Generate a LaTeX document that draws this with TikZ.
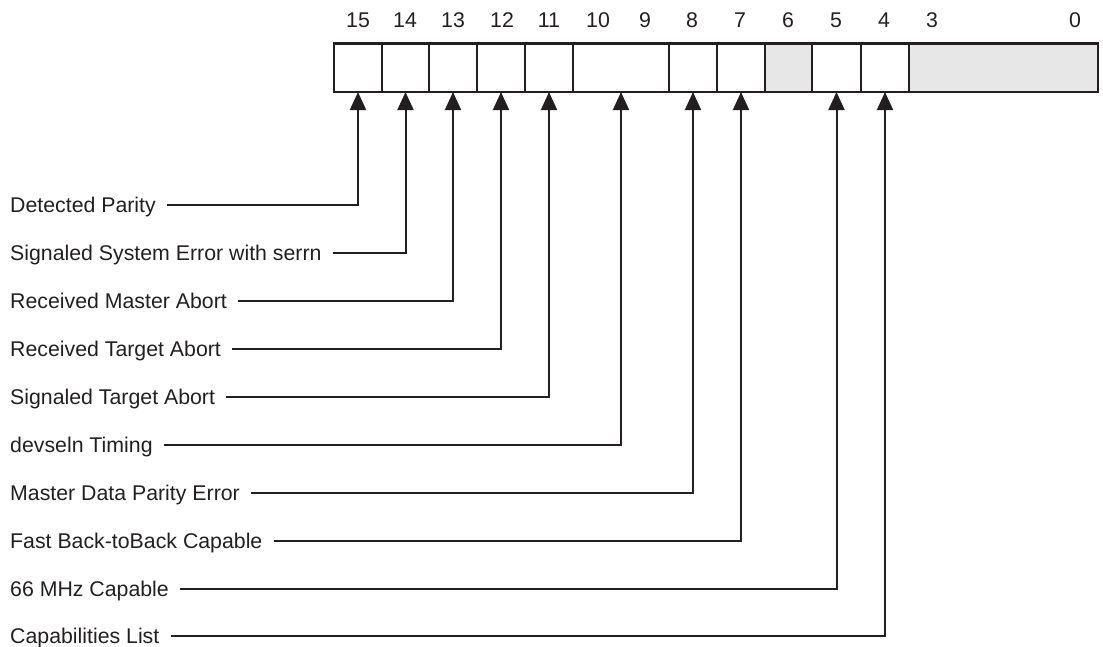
\documentclass[tikz,border=0pt]{standalone}
\usepackage{fontspec}
\setmainfont{Liberation Sans}
\usetikzlibrary{arrows.meta}
\definecolor{ink}{HTML}{231F20}
\definecolor{resv}{HTML}{E6E7E6}
\tikzset{
  cell/.style={draw=ink, line width=2.4pt, inner sep=0pt, outer sep=0pt, minimum height=48.5pt, anchor=north west},
  rcell/.style={cell, fill=resv},
  bitnum/.style={text=ink, font=\fontsize{21.3}{24}\selectfont, text height=15pt, text depth=0pt, inner sep=0pt},
  lab/.style={text=ink, font=\fontsize{21.3}{24}\selectfont, text height=15pt, text depth=0pt, inner ysep=0pt, inner xsep=0pt, anchor=west},
  conn/.style={draw=ink, line width=2pt, -{Triangle[width=16pt,length=18pt]}}
}
\begin{document}
\begin{tikzpicture}[x=1pt,y=-1pt]
\useasboundingbox (0,0) rectangle (1103,646);
% register cells
\node[cell, minimum width=48pt] (c15) at (334,43.5) {};
\node[cell, minimum width=47pt] (c14) at (382,43.5) {};
\node[cell, minimum width=48pt] (c13) at (429,43.5) {};
\node[cell, minimum width=48pt] (c12) at (477,43.5) {};
\node[cell, minimum width=48pt] (c11) at (525,43.5) {};
\node[cell, minimum width=96pt] (c109) at (573,43.5) {};
\node[cell, minimum width=48pt] (c8) at (669,43.5) {};
\node[cell, minimum width=48pt] (c7) at (717,43.5) {};
\node[rcell, minimum width=47pt] (c6) at (765,43.5) {};
\node[cell, minimum width=49pt] (c5) at (812,43.5) {};
\node[cell, minimum width=48pt] (c4) at (861,43.5) {};
\node[rcell, minimum width=189pt] (c30) at (909,43.5) {};
% bit numbers
\node[bitnum] (n15) at (358,20) {15};
\node[bitnum] (n14) at (405,20) {14};
\node[bitnum] (n13) at (453,20) {13};
\node[bitnum] (n12) at (502,20) {12};
\node[bitnum] (n11) at (549,20) {11};
\node[bitnum] (n10) at (598,20) {10};
\node[bitnum] (n9) at (645,20) {9};
\node[bitnum] (n8) at (692,20) {8};
\node[bitnum] (n7) at (740,20) {7};
\node[bitnum] (n6) at (788,20) {6};
\node[bitnum] (n5) at (836,20) {5};
\node[bitnum] (n4) at (884,20) {4};
\node[bitnum] (n3) at (932,20) {3};
\node[bitnum] (n0) at (1075,20) {0};
% labels
\node[lab] (l1) at (10,205) {Detected Parity};
\node[lab] (l2) at (10,253) {Signaled System Error with serrn};
\node[lab] (l3) at (10,301) {Received Master Abort};
\node[lab] (l4) at (10,349) {Received Target Abort};
\node[lab] (l5) at (10,397) {Signaled Target Abort};
\node[lab] (l6) at (10,445) {devseln Timing};
\node[lab] (l7) at (10,493) {Master Data Parity Error};
\node[lab] (l8) at (10,541) {Fast Back-toBack Capable};
\node[lab] (l9) at (10,589) {66 MHz Capable};
\node[lab] (l10) at (10,636) {Capabilities List};
% connectors
\draw[conn] ([xshift=11pt]l1.east) -| (c15.south);
\draw[conn] ([xshift=11pt]l2.east) -| (c14.south);
\draw[conn] ([xshift=11pt]l3.east) -| (c13.south);
\draw[conn] ([xshift=11pt]l4.east) -| (c12.south);
\draw[conn] ([xshift=11pt]l5.east) -| (c11.south);
\draw[conn] ([xshift=11pt]l6.east) -| (c109.south);
\draw[conn] ([xshift=11pt]l7.east) -| (c8.south);
\draw[conn] ([xshift=11pt]l8.east) -| (c7.south);
\draw[conn] ([xshift=11pt]l9.east) -| (c5.south);
\draw[conn] ([xshift=11pt]l10.east) -| (c4.south);
\end{tikzpicture}
\end{document}
